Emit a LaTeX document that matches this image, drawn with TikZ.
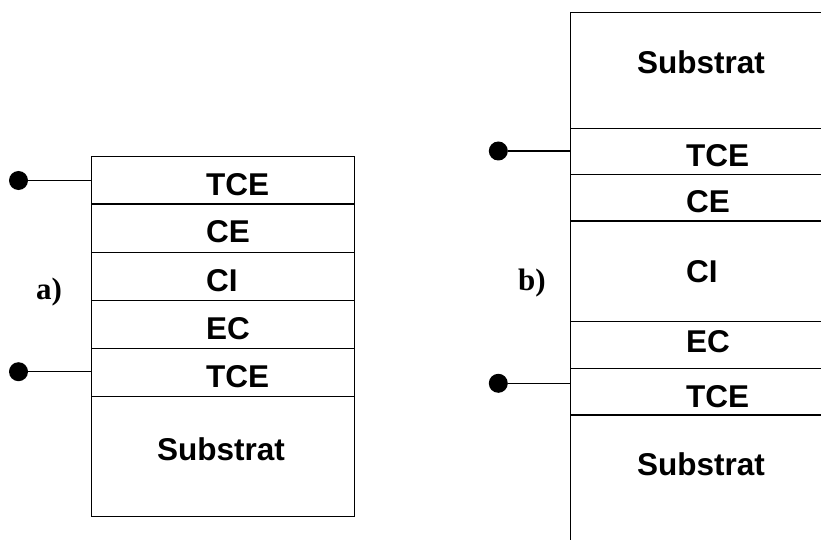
\documentclass[tikz,border=0pt]{standalone}
\usepackage{fontspec}
\setmainfont{Liberation Serif}
\setsansfont{Liberation Sans}
\begin{document}
\begin{tikzpicture}[x=1pt,y=-1pt,
  layer/.style={draw=black, line width=1.4pt, rectangle, anchor=north west, inner sep=0pt, minimum width=#1},
  txt/.style={anchor=base west, inner sep=0pt, font=\fontsize{31.5}{36}\selectfont\sffamily\bfseries},
  tag/.style={anchor=base west, inner sep=0pt, font=\fontsize{31}{36}\selectfont\rmfamily\bfseries},
  dot/.style={circle, fill=black, inner sep=0pt, minimum size=19pt},
  wire/.style={draw=black, line width=1.1pt}]
\clip (0,0) rectangle (821,540);
\fill[white] (0,0) rectangle (821,540);
% left stack
\node[layer=263.3pt, minimum height=47.6pt] (L1) at (90.7,155.7) {};
\node[layer=263.3pt, minimum height=48.4pt] (L2) at (90.7,203.3) {};
\node[layer=263.3pt, minimum height=48pt] (L3) at (90.7,251.7) {};
\node[layer=263.3pt, minimum height=48pt] (L4) at (90.7,299.7) {};
\node[layer=263.3pt, minimum height=48.3pt] (L5) at (90.7,347.7) {};
\node[layer=263.3pt, minimum height=119.7pt] (L6) at (90.7,396) {};
\node[txt] (tL1) at (206,195) {TCE};
\node[txt] (tL2) at (206,242.7) {CE};
\node[txt] (tL3) at (206,291.7) {CI};
\node[txt] (tL4) at (206,339.3) {EC};
\node[txt] (tL5) at (206,387.7) {TCE};
\node[txt] (tL6) at (157,460) {Substrat};
\node[tag] (ta) at (36,299) {a)};
\node[dot] (dA1) at (18.5,180.5) {};
\node[dot] (dA2) at (18.5,371.7) {};
\draw[wire] (dA1) -- (dA1 -| L1.west);
\draw[wire] (dA2) -- (dA2 -| L5.west);
% right stack
\node[layer=260pt, minimum height=116pt] (R1) at (570,11.7) {};
\node[layer=260pt, minimum height=46.3pt] (R2) at (570,127.7) {};
\node[layer=260pt, minimum height=46.3pt] (R3) at (570,174) {};
\node[layer=260pt, minimum height=100.7pt] (R4) at (570,220.3) {};
\node[layer=260pt, minimum height=47pt] (R5) at (570,321) {};
\node[layer=260pt, minimum height=46.3pt] (R6) at (570,368) {};
\node[layer=260pt, minimum height=130.7pt] (R7) at (570,414.3) {};
\node[txt] (tR1) at (637,73.3) {Substrat};
\node[txt] (tR2) at (686,166.7) {TCE};
\node[txt] (tR3) at (686,212.7) {CE};
\node[txt] (tR4) at (686,282.7) {CI};
\node[txt] (tR5) at (686,352.3) {EC};
\node[txt] (tR6) at (686,407.3) {TCE};
\node[txt] (tR7) at (637,475.7) {Substrat};
\node[tag] (tb) at (518,290) {b)};
\node[dot] (dB1) at (498.3,151) {};
\node[dot] (dB2) at (498.3,383.3) {};
\draw[wire] (dB1) -- (dB1 -| R2.west);
\draw[wire] (dB2) -- (dB2 -| R6.west);
\end{tikzpicture}
\end{document}
